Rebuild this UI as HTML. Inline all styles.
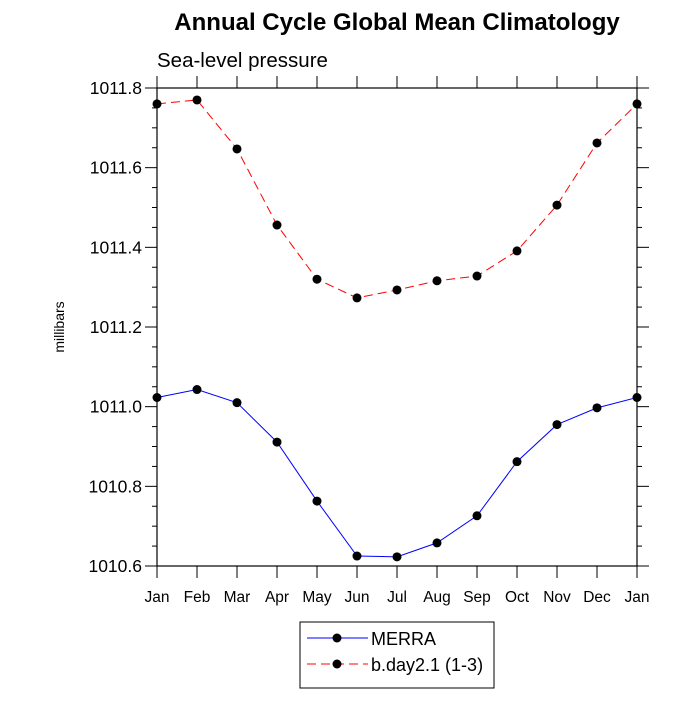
<!DOCTYPE html>
<html><head><meta charset="utf-8"><style>
body{margin:0;background:#fff}
svg text{font-family:"Liberation Sans",sans-serif;fill:#000}
</style></head><body>
<svg id="chart" width="700" height="700">
<text x="397" y="30" font-size="24" font-weight="bold" text-anchor="middle">Annual Cycle Global Mean Climatology</text>
<text x="157" y="67" font-size="20.5">Sea-level pressure</text>
<text transform="translate(64,327) rotate(-90)" font-size="14" text-anchor="middle">millibars</text>
<g id="axes"></g>
<g id="series"></g>
<g>
<rect x="300" y="622" width="194" height="66" fill="#fff" stroke="#000" stroke-width="1"/>
<line x1="307" y1="638" x2="368" y2="638" stroke="#00f" stroke-width="1"/>
<circle cx="337" cy="638" r="4.5" fill="#000"/>
<text x="371" y="645" font-size="18">MERRA</text>
<line x1="307" y1="664" x2="368" y2="664" stroke="#f00" stroke-width="1" stroke-dasharray="9,5"/>
<circle cx="337" cy="664" r="4.5" fill="#000"/>
<text x="371" y="671" font-size="18">b.day2.1 (1-3)</text>
</g>
</svg>
<script>
const months=["Jan","Feb","Mar","Apr","May","Jun","Jul","Aug","Sep","Oct","Nov","Dec","Jan"];
const merra=[1011.023,1011.043,1011.010,1010.911,1010.763,1010.625,1010.623,1010.658,1010.726,1010.862,1010.955,1010.997,1011.023];
const bday=[1011.760,1011.770,1011.647,1011.456,1011.320,1011.273,1011.293,1011.316,1011.328,1011.391,1011.506,1011.662,1011.760];
const yTicks=[1010.6,1010.8,1011.0,1011.2,1011.4,1011.6,1011.8];
const L=157,R=637,T=88,B=566,ymin=1010.6,ymax=1011.8;
const xs=i=>L+i*(R-L)/(months.length-1);
const ys=v=>B-(v-ymin)/(ymax-ymin)*(B-T);
const NS="http://www.w3.org/2000/svg";
function mk(tag,attrs,parent){const e=document.createElementNS(NS,tag);for(const k in attrs)e.setAttribute(k,attrs[k]);parent.appendChild(e);return e;}
const ax=document.getElementById('axes');
const frame=mk('rect',{x:L,y:T,width:R-L,height:B-T,fill:'none',stroke:'#000','stroke-width':1.2},ax);


for(let v=ymin;v<=ymax+1e-6;v+=0.05){
  const y=ys(v);const major=Math.abs(Math.round(v*5)-v*5)<1e-6;const len=major?12:5;
  mk('line',{x1:L-len,y1:y,x2:L,y2:y,stroke:'#000'},ax);
  mk('line',{x1:R,y1:y,x2:R+len,y2:y,stroke:'#000'},ax);
}
yTicks.forEach(v=>{
  const t=mk('text',{x:L-15,y:ys(v)+6,'font-size':17.5,'text-anchor':'end'},ax);
  t.textContent=v.toFixed(1);
  
  
});
months.forEach((m,i)=>{
  const x=xs(i);
  mk('line',{x1:x,y1:B,x2:x,y2:B+12,stroke:'#000'},ax);
  mk('line',{x1:x,y1:T-12,x2:x,y2:T,stroke:'#000'},ax);
  const t=mk('text',{x:x,y:B+36,'font-size':15.5,'text-anchor':'middle'},ax);
  t.textContent=m;
  
  
});
const sg=document.getElementById('series');
function draw(vals,color,dash,name){
  const p=mk('polyline',{points:vals.map((v,i)=>xs(i)+','+ys(v)).join(' '),fill:'none',stroke:color,'stroke-width':1,'stroke-dasharray':dash},sg);
  
  
  vals.forEach((v,i)=>{
    const c=mk('circle',{cx:xs(i),cy:ys(v),r:4.5,fill:'#000'},sg);
    
    
  });
}
draw(merra,'#00f','none','merra');
draw(bday,'#f00','9,5','bday');
</script>
</body></html>
